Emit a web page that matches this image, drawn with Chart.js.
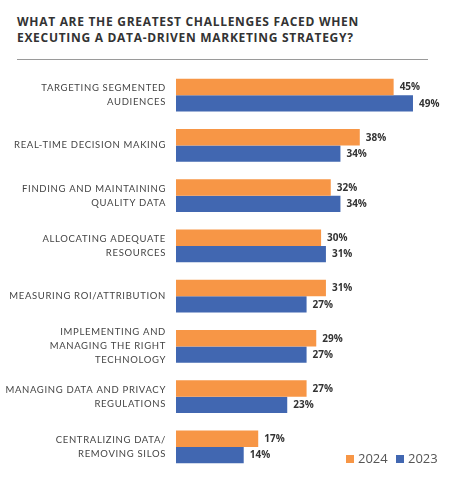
<!DOCTYPE html>
<html>
<head>
<meta charset="utf-8">
<script src="https://cdn.jsdelivr.net/npm/chart.js@4"></script>
<style>
  html, body { margin: 0; padding: 0; background: #fff; }
  body { width: 455px; height: 492px; position: relative; overflow: hidden; font-family: "Open Sans", sans-serif; }
  #title { position: absolute; left: 17px; top: 14px; margin: 0; font-size: 12px; font-weight: 700; line-height: 16px; letter-spacing: 0.7px; color: #333; }
  #rule { position: absolute; left: 17px; top: 59px; width: 411px; height: 0; border-top: 1.5px solid #9a9a9a; }
  #wrap { position: absolute; left: 0; top: 70px; width: 455px; height: 402px; }
  .leg { position: absolute; top: 450px; font-size: 13px; color: #555; line-height: 16px; }
  .leg i { display: inline-block; width: 8px; height: 8px; margin-right: 4px; }
</style>
</head>
<body>
<h1 id="title">WHAT ARE THE GREATEST CHALLENGES FACED WHEN<br>EXECUTING A DATA-DRIVEN MARKETING STRATEGY?</h1>
<div id="rule"></div>
<div id="wrap"><canvas id="challengesChart"></canvas></div>
<div class="leg" style="left:346px"><i style="background:#f79646"></i>2024</div>
<div class="leg" style="left:396px"><i style="background:#4167b1"></i>2023</div>
<script>
const categories = [
    ['TARGETING SEGMENTED', 'AUDIENCES'],
    'REAL-TIME DECISION MAKING',
    ['FINDING AND MAINTAINING', 'QUALITY DATA'],
    ['ALLOCATING ADEQUATE', 'RESOURCES'],
    'MEASURING ROI/ATTRIBUTION',
    ['IMPLEMENTING AND', 'MANAGING THE RIGHT', 'TECHNOLOGY'],
    ['MANAGING DATA AND PRIVACY', 'REGULATIONS'],
    ['CENTRALIZING DATA/', 'REMOVING SILOS']
];
const values2024 = [45, 38, 32, 30, 31, 29, 27, 17];
const values2023 = [49, 34, 34, 31, 27, 27, 23, 14];

const labelFont = '9.5px Lato, sans-serif';
const ctx = document.getElementById('challengesChart').getContext('2d');

// the labels in the original are tracked out; pick the spacing that makes
// the longest one about 152px wide
ctx.font = labelFont;
const longest = 'REAL-TIME DECISION MAKING';
const tracking = Math.max(0, (152 - ctx.measureText(longest).width) / longest.length);

const spacing = {
    id: 'spacing',
    beforeDraw(chart) { chart.ctx.letterSpacing = tracking + 'px'; },
    beforeDatasetsDraw(chart) { chart.ctx.letterSpacing = '0px'; }
};

const valueLabels = {
    id: 'valueLabels',
    afterDatasetsDraw(chart) {
        const c = chart.ctx;
        c.save();
        c.letterSpacing = '0px';
        c.font = 'bold 10px "Open Sans", sans-serif';
        c.fillStyle = '#333';
        c.textAlign = 'left';
        c.textBaseline = 'middle';
        chart.data.datasets.forEach((ds, i) => {
            chart.getDatasetMeta(i).data.forEach((bar, j) => {
                c.fillText(ds.data[j] + '%', bar.x + 6, bar.y + 0.5);
            });
        });
        c.restore();
    }
};

new Chart(ctx, {
    type: 'bar',
    data: {
        labels: categories,
        datasets: [
            { label: '2024', data: values2024, backgroundColor: '#f79646' },
            { label: '2023', data: values2023, backgroundColor: '#4167b1' }
        ]
    },
    options: {
        indexAxis: 'y',
        responsive: true,
        maintainAspectRatio: false,
        animation: false,
        categoryPercentage: 0.652,
        barPercentage: 1,
        layout: { padding: { left: 0, right: 13, top: 0, bottom: 0 } },
        scales: {
            x: { display: false, min: 0, max: 55 },
            y: {
                grid: { display: false, drawTicks: false },
                border: { display: false },
                ticks: {
                    color: '#444',
                    padding: 10,
                    font: { family: 'Lato, sans-serif', size: 9.5, lineHeight: 1.47 }
                },
                afterFit(scale) {
                    scale.width = 176;
                    scale.paddingTop = 0;
                    scale.paddingBottom = 0;
                }
            }
        },
        plugins: {
            legend: { display: false },
            tooltip: { enabled: false }
        }
    },
    plugins: [spacing, valueLabels]
});
</script>
</body>
</html>
